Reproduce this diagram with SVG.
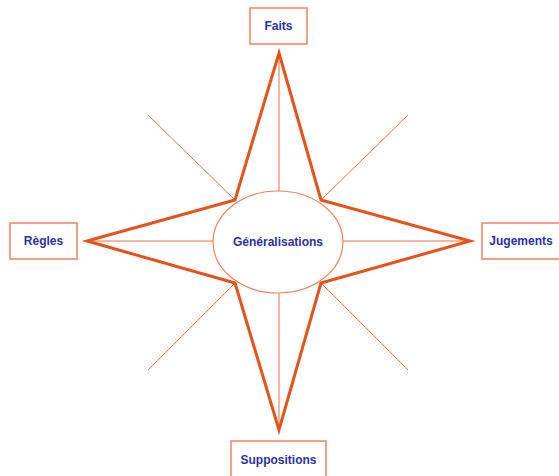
<svg xmlns="http://www.w3.org/2000/svg" width="559" height="476" viewBox="0 0 559 476">
<style>
.box{fill:#fff;stroke:#f0825e;stroke-width:1.5}
.lbl{font-family:"Liberation Sans",Arial,sans-serif;font-weight:bold;font-size:12px;fill:#2b30aa;text-anchor:middle}
.thin{stroke:#f0703e;stroke-width:1;fill:none}
.star{fill:none;stroke:#e6521a;stroke-width:3;stroke-linejoin:miter;stroke-miterlimit:20}
</style>
<rect width="559" height="476" fill="#fff"/>
<g id="connectors">
<line class="thin" x1="148" y1="115" x2="235" y2="200"/>
<line class="thin" x1="408" y1="115" x2="321" y2="200"/>
<line class="thin" x1="148" y1="370" x2="235" y2="283"/>
<line class="thin" x1="408" y1="370" x2="321" y2="283"/>
<line class="thin" x1="279" y1="55" x2="279" y2="191"/>
<line class="thin" x1="279" y1="292" x2="279" y2="428"/>
<line class="thin" x1="89" y1="241" x2="213" y2="241"/>
<line class="thin" x1="343" y1="241" x2="468" y2="241"/>
<polygon class="star" points="279,53 321,200 470,241 321,283 279,430 235,283 87,241 235,200"/>
</g>
<g id="generalisations">
<ellipse cx="278" cy="242" rx="65" ry="51" fill="#fff" stroke="#f0825e" stroke-width="1.2"/>
<text class="lbl" x="278" y="246">Généralisations</text>
</g>
<g id="faits">
<rect class="box" x="250" y="8" width="57" height="36"/>
<text class="lbl" x="278.5" y="30">Faits</text>
</g>
<g id="regles">
<rect class="box" x="10" y="223" width="67" height="36"/>
<text class="lbl" x="43.5" y="245">Règles</text>
</g>
<g id="jugements">
<rect class="box" x="482" y="223" width="80" height="36"/>
<text class="lbl" x="521" y="245">Jugements</text>
</g>
<g id="suppositions">
<rect class="box" x="231" y="441" width="95" height="40"/>
<text class="lbl" x="278.5" y="464">Suppositions</text>
</g>
</svg>
